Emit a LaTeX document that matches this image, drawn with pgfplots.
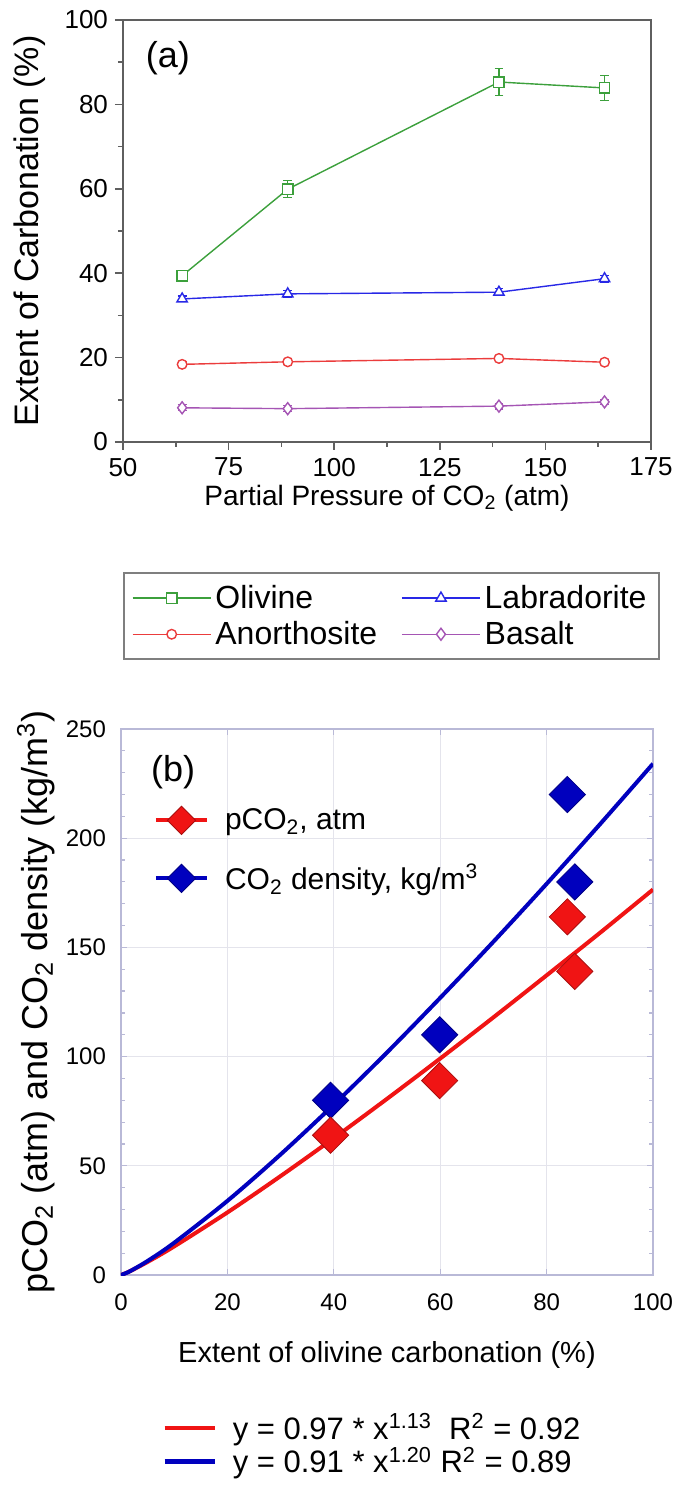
\documentclass[border=0pt]{standalone}
\usepackage{fontspec}
\setmainfont{Liberation Sans}
\usepackage{pgfplots}
\pgfplotsset{compat=1.18}

\definecolor{olgreen}{RGB}{60,160,60}
\definecolor{labblue}{RGB}{40,40,230}
\definecolor{anored}{RGB}{235,60,60}
\definecolor{baspurple}{RGB}{165,85,180}
\definecolor{fitred}{RGB}{240,20,20}
\definecolor{fitblue}{RGB}{0,0,190}
\definecolor{axgray}{RGB}{95,95,95}
\definecolor{bframe}{RGB}{185,185,215}
\definecolor{bgrid}{RGB}{228,228,236}

\begin{document}
\begin{tikzpicture}[x=1pt,y=1pt]
\path[use as bounding box] (0,0) rectangle (337.5,742.5);

% ---- panel (a)
\begin{axis}[
  at={(61.5pt,521.5pt)}, anchor=south west,
  scale only axis, width=264pt, height=211pt,
  xmin=50, xmax=175, ymin=0, ymax=100,
  xtick={50,75,...,175}, ytick={0,20,...,100},
  minor x tick num=1, minor y tick num=1,
  tick align=outside, tick pos=left,
  major tick length=4pt, minor tick length=2.5pt,
  axis line style={axgray, line width=0.9pt},
  tick style={axgray, line width=0.8pt},
  /pgf/number format/assume math mode=true,
  tick label style={font=\fontsize{13}{13}\selectfont},
  xticklabel style={yshift=-0.5pt},
  xlabel={Partial Pressure of CO\textsubscript{2} (atm)},
  ylabel={Extent of Carbonation (\%)},
  xlabel style={font=\fontsize{14}{14}\selectfont, at={(axis description cs:0.5,-0.133)}, anchor=center},
  ylabel style={font=\fontsize{17}{17}\selectfont, at={(axis description cs:-0.176,0.5)}, anchor=center},
  legend columns=2,
  legend cell align=left,
  legend style={at={(axis description cs:0,-0.308)}, anchor=north west,
    draw=axgray!80, line width=1pt, font=\fontsize{16}{16}\selectfont,
    inner xsep=4pt, inner ysep=4pt, row sep=1pt,
    /tikz/every even column/.append style={column sep=10pt}},
  legend image code/.code={\draw[mark repeat=2,mark phase=2,#1] plot coordinates {(0pt,0pt) (19.5pt,0pt) (39pt,0pt)};},
  error bars/error bar style={line width=0.6pt},
  error bars/error mark options={rotate=90, mark size=2.2pt, line width=0.6pt},
]
\node[font=\fontsize{18}{18}\selectfont] at (axis description cs:0.085,0.91) {(a)};

\addplot[olgreen, line width=0.7pt, mark=square*, mark size=2.6pt, mark options={fill=white},
  error bars/.cd, y dir=both, y explicit]
  coordinates {(64,39.4) +- (0,0.6) (89,59.9) +- (0,2.0) (139,85.3) +- (0,3.2) (164,83.9) +- (0,2.9)};
\addlegendentry{Olivine}
\addplot[labblue, line width=0.7pt, mark=triangle*, mark size=3pt, mark options={fill=white},
  error bars/.cd, y dir=both, y explicit]
  coordinates {(64,33.9) +- (0,0.7) (89,35.1) +- (0,0.8) (139,35.5) +- (0,0.8) (164,38.7) +- (0,0.8)};
\addlegendentry{Labradorite}
\addplot[anored, line width=0.7pt, mark=*, mark size=2.4pt, mark options={fill=white},
  error bars/.cd, y dir=both, y explicit]
  coordinates {(64,18.4) +- (0,0.6) (89,19.0) +- (0,0.6) (139,19.8) +- (0,0.6) (164,18.9) +- (0,0.6)};
\addlegendentry{Anorthosite}
\addplot[baspurple, line width=0.7pt, mark=diamond*, mark size=3pt, mark options={fill=white},
  error bars/.cd, y dir=both, y explicit]
  coordinates {(64,8.1) +- (0,0.7) (89,7.9) +- (0,0.7) (139,8.5) +- (0,0.7) (164,9.5) +- (0,0.6)};
\addlegendentry{Basalt}
\end{axis}

% ---- panel (b)
\begin{axis}[
  at={(60.5pt,105pt)}, anchor=south west,
  scale only axis, width=266pt, height=273pt,
  xmin=0, xmax=100, ymin=0, ymax=250,
  xtick={0,20,...,100}, ytick={0,50,...,250},
  minor y tick num=4,
  tick align=inside, major tick length=3pt, minor tick length=2pt,
  grid=major, major grid style={bgrid, line width=0.6pt},
  axis line style={bframe, line width=0.8pt},
  tick style={bframe, line width=0.6pt},
  /pgf/number format/assume math mode=true,
  tick label style={font=\fontsize{12}{12}\selectfont},
  xticklabel style={yshift=-6pt},
  yticklabel style={xshift=-4pt},
  xlabel={Extent of olivine carbonation (\%)},
  ylabel={pCO\textsubscript{2} (atm) and CO\textsubscript{2} density (kg/m\textsuperscript{3})},
  xlabel style={font=\fontsize{14.5}{14.5}\selectfont, at={(axis description cs:0.5,-0.147)}, anchor=center},
  ylabel style={font=\fontsize{18}{18}\selectfont, at={(axis description cs:-0.16,0.5)}, anchor=center},
  legend cell align=left,
  legend style={at={(axis description cs:0.05,0.87)}, anchor=north west,
    draw=none, fill=none, font=\fontsize{15}{15}\selectfont, row sep=12pt,
    /tikz/every odd column/.append style={column sep=6pt}},
  legend image code/.code={\draw[mark repeat=2,mark phase=2,#1] plot coordinates {(0pt,0pt) (12.75pt,0pt) (25.5pt,0pt)};},
]
\node[font=\fontsize{18}{18}\selectfont] at (axis description cs:0.098,0.921) {(b)};

\addlegendimage{fitred, line width=2pt, mark=square*, mark size=5pt, mark options={rotate=45, fill=fitred, draw=fitred!70!black, line width=0.4pt}}
\addlegendentry{pCO\textsubscript{2}, atm}
\addlegendimage{fitblue, line width=2pt, mark=square*, mark size=5pt, mark options={rotate=45, fill=fitblue, draw=fitblue!70!black, line width=0.4pt}}
\addlegendentry{CO\textsubscript{2} density, kg/m\textsuperscript{3}}

\addplot[fitred, line width=2pt, smooth, forget plot]
  coordinates {(0,0) (1,0.97) (2,2.12) (5,5.98) (10,13.09) (20,28.64) (30,45.29) (40,62.67) (50,80.66) (60,99.11) (70,117.96) (80,137.2) (90,156.6) (100,176.5)};
\addplot[fitblue, line width=2pt, smooth, forget plot]
  coordinates {(0,0) (1,0.93) (2,2.14) (5,6.43) (10,14.77) (20,33.93) (30,55.2) (40,77.99) (50,101.9) (60,126.9) (70,152.6) (80,179.1) (90,206.3) (100,234.1)};
\addplot[only marks, forget plot, mark=square*, mark size=6.4pt, mark options={rotate=45, fill=fitblue, draw=fitblue!70!black, line width=0.4pt}]
  coordinates {(39.4,80) (59.9,110) (85.3,180) (83.9,220)};
\addplot[only marks, forget plot, mark=square*, mark size=6.4pt, mark options={rotate=45, fill=fitred, draw=fitred!70!black, line width=0.4pt}]
  coordinates {(39.4,64) (59.9,89) (85.3,139) (83.9,164)};
\end{axis}

% ---- fit legend below panel (b)
\begin{axis}[
  at={(0pt,0pt)}, anchor=south west,
  scale only axis, width=337.5pt, height=742.5pt,
  xmin=0, xmax=337.5, ymin=0, ymax=742.5, hide axis,
  legend cell align=left,
  legend style={at={(axis cs:78,40)}, anchor=north west,
    draw=none, fill=none, font=\fontsize{15.5}{15.5}\selectfont, row sep=-1.5pt,
    /tikz/every odd column/.append style={column sep=6pt}},
  legend image code/.code={\draw[#1] (0pt,0pt) -- (25pt,0pt);},
]
\addlegendimage{fitred, line width=2.2pt}
\addlegendentry{y = 0.97 * x\textsuperscript{1.13}\ \ R\textsuperscript{2} = 0.92}
\addlegendimage{fitblue, line width=2.2pt}
\addlegendentry{y = 0.91 * x\textsuperscript{1.20}\ R\textsuperscript{2} = 0.89}
\end{axis}
\end{tikzpicture}
\end{document}
